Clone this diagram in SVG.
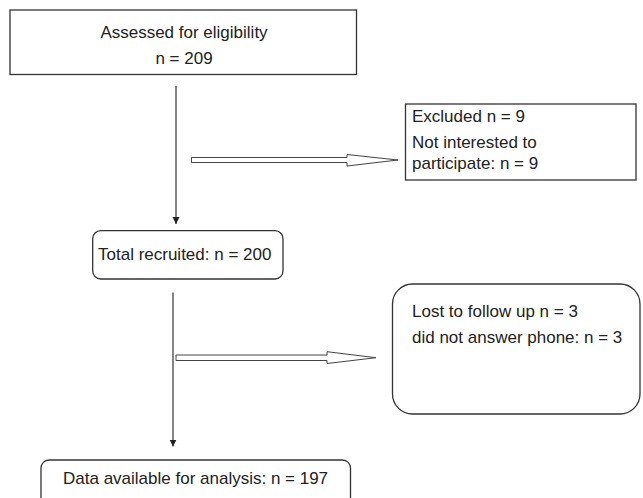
<svg xmlns="http://www.w3.org/2000/svg" width="643" height="498" viewBox="0 0 643 498">
<defs>
<style>
.box{fill:#fff;stroke:#333;stroke-width:1.3}
.t{font-family:"Liberation Sans",Arial,sans-serif;font-size:17px;fill:#222}
.c{text-anchor:middle}
.ln{stroke:#333;stroke-width:1.2;fill:none}
.blk{fill:#fff;stroke:#444;stroke-width:1}
</style>
<marker id="ah" viewBox="0 0 10 10" refX="10" refY="5" markerWidth="7" markerHeight="8" markerUnits="userSpaceOnUse" orient="auto">
<path d="M0,0 L10,5 L0,10 Z" fill="#222"/>
</marker>
</defs>
<rect width="643" height="498" fill="#fff"/>
<g id="connectors">
<line class="ln" x1="176" y1="86" x2="176" y2="224" marker-end="url(#ah)"/>
<line class="ln" x1="173" y1="292.5" x2="173" y2="446.5" marker-end="url(#ah)"/>
<path class="blk" d="M191.5,157.5 H347 V154.5 L398,160 L347,166 V162.5 H191.5 Z"/>
<path class="blk" d="M176,355 H327 V351.7 L376,357.7 L327,363.5 V360.5 H176 Z"/>
</g>
<g id="assessed">
<rect class="box" x="10" y="10" width="346.5" height="64.5"/>
<text class="t c" x="184" y="37.5">Assessed for eligibility</text>
<text class="t c" x="184" y="64">n = 209</text>
</g>
<g id="excluded">
<rect class="box" x="405.5" y="104" width="230.5" height="76"/>
<text class="t" x="412" y="122">Excluded n = 9</text>
<text class="t" x="412" y="148">Not interested to</text>
<text class="t" x="412" y="169">participate: n = 9</text>
</g>
<g id="recruited">
<rect class="box" x="92.7" y="230.7" width="190.3" height="48.3" rx="8"/>
<text class="t" x="98" y="259.5">Total recruited: n = 200</text>
</g>
<g id="lost">
<rect class="box" x="392.5" y="284" width="247.5" height="130" rx="20"/>
<text class="t" x="412" y="317">Lost to follow up n = 3</text>
<text class="t" x="412" y="343">did not answer phone: n = 3</text>
</g>
<g id="data">
<rect class="box" x="41" y="460" width="309.5" height="50" rx="8"/>
<text class="t" x="63" y="484">Data available for analysis: n = 197</text>
</g>
</svg>
